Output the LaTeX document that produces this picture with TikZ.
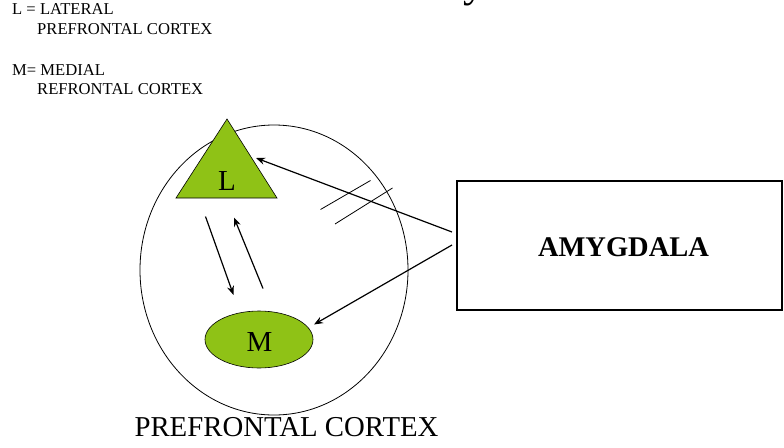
\documentclass[tikz,border=0pt]{standalone}
\usepackage{fontspec}
\setmainfont{Liberation Serif}
\usetikzlibrary{arrows.meta}
\definecolor{leafgreen}{RGB}{143,194,22}
\tikzset{
  legend/.style={anchor=base west, inner sep=0pt, font=\fontsize{16.6}{18}\selectfont},
  region/.style={draw=black, line width=0.6pt, fill=leafgreen},
  conn/.style={draw=black, line width=1.2pt, -{Stealth[length=9pt,width=7pt]}},
  thin/.style={draw=black, line width=0.8pt}
}
\begin{document}
\begin{tikzpicture}[x=1pt,y=-1pt]
\useasboundingbox (0,0) rectangle (784,447);
% cropped title fragment
\node[anchor=base west, inner sep=0pt, font=\fontsize{44}{48}\selectfont] (title) at (463,-3.5) {y};
% legend
\node[legend] (l1) at (12,14) {L = LATERAL};
\node[legend] (l2) at (37,34) {PREFRONTAL CORTEX};
\node[legend] (l3) at (12,75) {M= MEDIAL};
\node[legend] (l4) at (37,94.5) {REFRONTAL CORTEX};
% prefrontal cortex
\draw[thin] (274,270) ellipse [x radius=134, y radius=145];
\node (cortex) at (274,270) {};
\node[anchor=base, inner sep=0pt, font=\fontsize{28.8}{32}\selectfont] (pfc) at (286.5,436.5) {PREFRONTAL CORTEX};
% L triangle
\draw[region] (227,119) -- (277,198) -- (176,198) -- cycle;
\coordinate (Ltip) at (256,158);
\node[anchor=base, inner sep=0pt, font=\fontsize{29}{32}\selectfont] (L) at (227,190) {L};
% M ellipse
\draw[region] (259,339.5) ellipse [x radius=54, y radius=28.5];
\coordinate (Mtip) at (314,324.5);
\node[anchor=base, inner sep=0pt, font=\fontsize{29}{32}\selectfont] (M) at (259.5,351) {M};
% amygdala
\node[draw=black, line width=1.2pt, minimum width=325pt, minimum height=129pt, inner sep=0pt] (amy) at (619.5,245.5) {};
\node[anchor=base, inner sep=0pt, font=\bfseries\fontsize{28.5}{32}\selectfont] (amytext) at (623.5,256) {AMYGDALA};
\coordinate (a1) at (452,232);
\coordinate (a2) at (452,245);
\draw[conn] (a1) -- (Ltip);
\draw[conn] (a2) -- (Mtip);
% L <-> M
\coordinate (ld) at (205.5,216.5);
\coordinate (md) at (233.5,295);
\coordinate (mu) at (263,288.5);
\coordinate (lu) at (234,217.5);
\draw[conn] (ld) -- (md);
\draw[conn] (mu) -- (lu);
% blocked pathway marks
\coordinate (h1a) at (320.5,209.5);
\coordinate (h1b) at (370.5,180.5);
\coordinate (h2a) at (335,224);
\coordinate (h2b) at (392.5,188);
\draw[thin] (h1a) -- (h1b);
\draw[thin] (h2a) -- (h2b);
\end{tikzpicture}
\end{document}
